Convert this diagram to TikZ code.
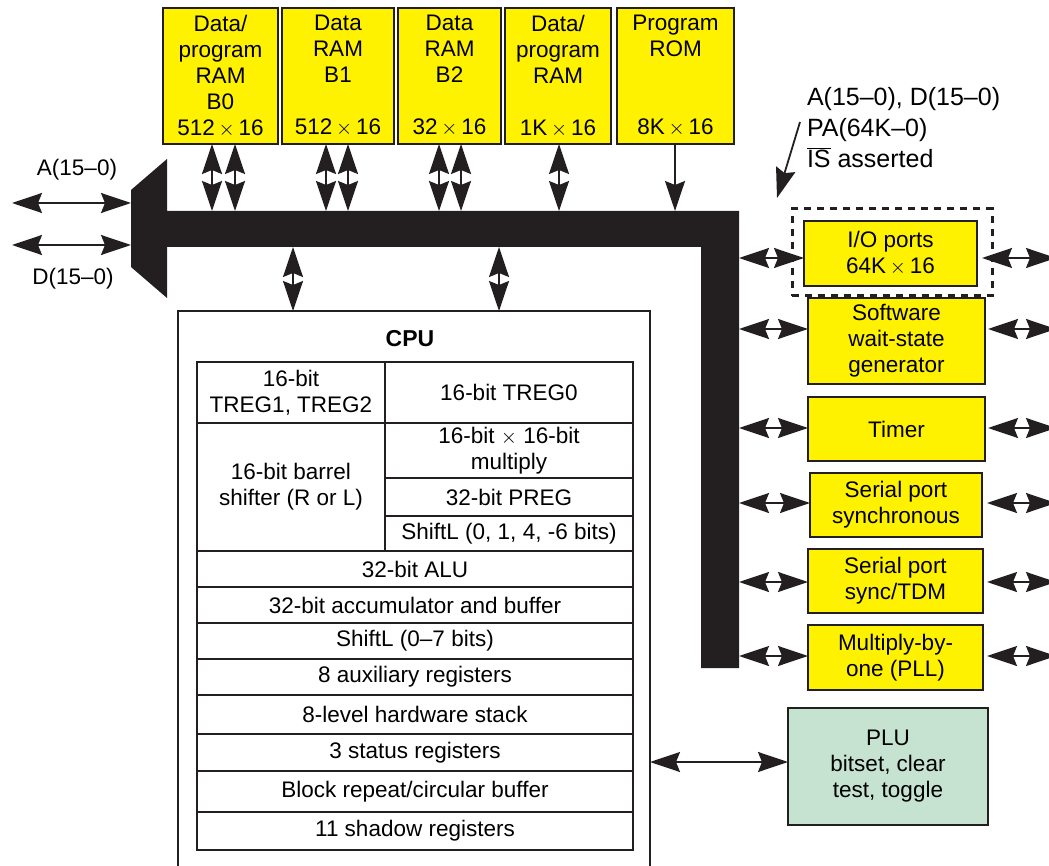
\documentclass[tikz,border=0pt]{standalone}
\usepackage{fontspec}
\setmainfont{Liberation Sans}
\usetikzlibrary{arrows.meta,calc}
\definecolor{memyel}{HTML}{FFF200}
\definecolor{plugreen}{HTML}{C6E3D1}
\definecolor{ink}{HTML}{231F20}
\tikzset{
  membox/.style={draw=ink, line width=1.5pt, fill=memyel, align=center},
  plubox/.style={draw=ink, line width=1.5pt, fill=plugreen, align=center},
  cell/.style={draw=ink, line width=1.2pt, align=center},
  biarrow/.style={draw=ink, line width=1.8pt,
    arrows={Stealth[length=30pt,width=20pt,inset=4pt]-Stealth[length=30pt,width=20pt,inset=4pt]}},
  onearrow/.style={draw=ink, line width=1.8pt,
    arrows={-Stealth[length=30pt,width=20pt,inset=4pt]}},
}
\begin{document}
\begin{tikzpicture}[x=1pt,y=-1pt,
  font=\fontsize{22.5}{26}\selectfont,
  every node/.style={inner sep=0pt, outer sep=0pt}]
\useasboundingbox (0,0) rectangle (1049,866);

% ---- bus ----
\fill[ink] (131,190) -- (167,159) -- (167,211) -- (739,211) -- (739,668)
  -- (701,668) -- (701,247) -- (167,247) -- (167,298) -- (131,267) -- cycle;

% ---- memory blocks ----
\node[membox, minimum width=115pt, minimum height=136pt] (b0) at (220.5,76) {Data/\\program\\RAM\\B0\\512\,$\times$\,16};
\node[membox, minimum width=112pt, minimum height=136pt] (b1) at (338,76) {Data\\RAM\\B1\\\mbox{}\\512\,$\times$\,16};
\node[membox, minimum width=103pt, minimum height=136pt] (b2) at (449.5,76) {Data\\RAM\\B2\\\mbox{}\\32\,$\times$\,16};
\node[membox, minimum width=106pt, minimum height=136pt] (b3) at (558,76) {Data/\\program\\RAM\\\mbox{}\\1K\,$\times$\,16};
\node[membox, minimum width=117pt, minimum height=136pt] (rom) at (675.5,76) {Program\\ROM\\\mbox{}\\\mbox{}\\8K\,$\times$\,16};

\coordinate (k0a) at (212,211);
\coordinate (k0b) at (235,211);
\coordinate (k1a) at (326,211);
\coordinate (k1b) at (348,211);
\coordinate (k2a) at (439,211);
\coordinate (k2b) at (461,211);
\coordinate (k3) at (559,211);
\coordinate (k4) at (675,211);
\draw[biarrow] (b0.south -| k0a) -- (k0a);
\draw[biarrow] (b0.south -| k0b) -- (k0b);
\draw[biarrow] (b1.south -| k1a) -- (k1a);
\draw[biarrow] (b1.south -| k1b) -- (k1b);
\draw[biarrow] (b2.south -| k2a) -- (k2a);
\draw[biarrow] (b2.south -| k2b) -- (k2b);
\draw[biarrow] (b3.south -| k3) -- (k3);
\draw[onearrow] (rom.south -| k4) -- (k4);

% ---- external address / data ----
\node (alab) at (77,170) {A(15–0)};
\node (dlab) at (73,279) {D(15–0)};
\coordinate (aout) at (12,203);
\coordinate (abus) at (131,203);
\coordinate (dout) at (12,245);
\coordinate (dbus) at (131,245);
\draw[biarrow] (aout) -- (abus);
\draw[biarrow] (dout) -- (dbus);

% ---- CPU ----
\node[draw=ink, line width=2.5pt, minimum width=472pt, minimum height=562pt, anchor=north west] (cpu) at (178,311) {};
\node[font=\bfseries\fontsize{23}{26}\selectfont] (cputitle) at (410,339) {CPU};
\coordinate (c1) at (293,247);
\coordinate (c2) at (499,247);
\draw[biarrow] (c1) -- (c1 |- cpu.north);
\draw[biarrow] (c2) -- (c2 |- cpu.north);

% table
\node[cell, minimum width=188pt, minimum height=61pt] (treg12) at (291,392.5) {16-bit\\TREG1, TREG2};
\node[cell, minimum width=248pt, minimum height=61pt] (treg0) at (509,392.5) {16-bit TREG0};
\node[cell, minimum width=188pt, minimum height=128pt] (barrel) at (291,487) {16-bit barrel\\shifter (R or L)};
\node[cell, minimum width=248pt, minimum height=55pt] (mult) at (509,450.5) {16-bit $\times$ 16-bit\\multiply};
\node[cell, minimum width=248pt, minimum height=38pt] (preg) at (509,497) {32-bit PREG};
\node[cell, minimum width=248pt, minimum height=35pt] (shl) at (509,533.5) {ShiftL (0, 1, 4, -6 bits)};
\node[cell, minimum width=436pt, minimum height=36pt] (alu) at (415,569) {32-bit ALU};
\node[cell, minimum width=436pt, minimum height=36pt] (acc) at (415,605) {32-bit accumulator and buffer};
\node[cell, minimum width=436pt, minimum height=36pt] (shift) at (415,641) {ShiftL (0–7 bits)};
\node[cell, minimum width=436pt, minimum height=36pt] (aux) at (415,677) {8 auxiliary registers};
\node[cell, minimum width=436pt, minimum height=39pt] (stack) at (415,714.5) {8-level hardware stack};
\node[cell, minimum width=436pt, minimum height=37pt] (status) at (415,752.5) {3 status registers};
\node[cell, minimum width=436pt, minimum height=41pt] (block) at (415,791.5) {Block repeat/circular buffer};
\node[cell, minimum width=436pt, minimum height=38pt] (shadow) at (415,831) {11 shadow registers};
\draw[ink, line width=2.5pt] (treg12.north west) rectangle (shadow.south east);

% ---- peripherals ----
\node[draw=ink, line width=3pt, dash pattern=on 7pt off 6pt, minimum width=200pt, minimum height=87pt] (iodash) at (892,252.5) {};
\node[membox, minimum width=173pt, minimum height=65pt] (io) at (890.5,253.5) {I/O ports\\64K\,$\times$\,16};
\node[membox, minimum width=177pt, minimum height=86pt] (sw) at (896.5,341) {Software\\wait-state\\generator};
\node[membox, minimum width=177pt, minimum height=64pt] (timer) at (896.5,429) {Timer};
\node[membox, minimum width=172pt, minimum height=64pt] (sp1) at (896,505) {Serial port\\synchronous};
\node[membox, minimum width=175pt, minimum height=64pt] (sp2) at (895.5,581) {Serial port\\sync/TDM};
\node[membox, minimum width=175pt, minimum height=65pt] (pll) at (895.5,657.5) {Multiply-by-\\one (PLL)};
\node[plubox, minimum width=200pt, minimum height=117pt] (plu) at (888,766.5) {PLU\\bitset, clear\\test, toggle};

\coordinate (r1) at (739,258);
\coordinate (r2) at (739,329);
\coordinate (r3) at (739,428);
\coordinate (r4) at (739,503);
\coordinate (r5) at (739,582);
\coordinate (r6) at (739,656);
\draw[biarrow] (r1) -- (r1 -| io.west);
\draw[biarrow] (r2) -- (r2 -| sw.west);
\draw[biarrow] (r3) -- (r3 -| timer.west);
\draw[biarrow] (r4) -- (r4 -| sp1.west);
\draw[biarrow] (r5) -- (r5 -| sp2.west);
\draw[biarrow] (r6) -- (r6 -| pll.west);

\coordinate (e1) at (1056,258);
\coordinate (e2) at (1056,329);
\coordinate (e3) at (1056,428);
\coordinate (e4) at (1056,503);
\coordinate (e5) at (1056,582);
\coordinate (e6) at (1056,656);
\draw[biarrow] ($(e1 -| io.east)+(5,0)$) -- (e1);
\draw[biarrow] ($(e2 -| sw.east)+(3,0)$) -- (e2);
\draw[biarrow] ($(e3 -| timer.east)+(3,0)$) -- (e3);
\draw[biarrow] ($(e4 -| sp1.east)+(5,0)$) -- (e4);
\draw[biarrow] ($(e5 -| sp2.east)+(4,0)$) -- (e5);
\draw[biarrow] ($(e6 -| pll.east)+(4,0)$) -- (e6);

\coordinate (pl) at (650,762);
\draw[biarrow] (cpu.east |- pl) -- (pl -| plu.west);

% ---- note ----
\node[anchor=north west, align=left, font=\fontsize{25}{31}\selectfont] (note) at (807,87) {A(15–0), D(15–0)\\PA(64K–0)\\$\overline{\mbox{IS}}$ asserted};
\coordinate (ns) at (800,122);
\coordinate (ne) at (777,198);
\draw[onearrow] (ns) -- (ne);
\end{tikzpicture}
\end{document}
